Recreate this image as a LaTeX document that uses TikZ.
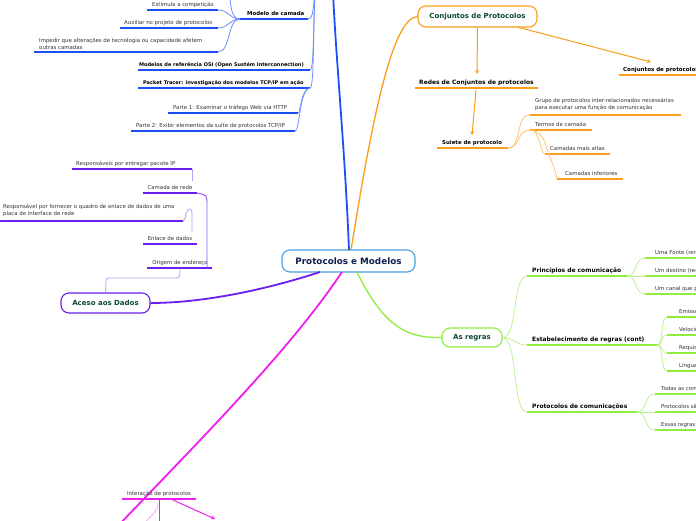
\documentclass[tikz,border=0pt]{standalone}
\usepackage{fontspec}
\setmainfont{DejaVu Sans}
\usetikzlibrary{arrows.meta}
\definecolor{cblue}{HTML}{1E4FF5}
\definecolor{cbluel}{HTML}{6F8FFF}
\definecolor{ccenter}{HTML}{4A9EDC}
\definecolor{navy}{HTML}{0F1F4F}
\definecolor{dgreen}{HTML}{0B4A2E}
\definecolor{corange}{HTML}{FB9E1A}
\definecolor{corangel}{HTML}{FCC56E}
\definecolor{cgreen}{HTML}{8EEE3A}
\definecolor{cgreenl}{HTML}{BDF290}
\definecolor{cpurple}{HTML}{6A1EF0}
\definecolor{cpurplel}{HTML}{B89CF6}
\definecolor{cmag}{HTML}{EE1EEE}
\definecolor{cmagl}{HTML}{F6A6F6}
\definecolor{txt}{HTML}{333333}
\tikzset{
  lbl/.style={anchor=base west, inner sep=0pt, font=\fontsize{5.4}{7}\selectfont, text=txt},
  blbl/.style={anchor=base west, inner sep=0pt, font=\fontsize{5}{6.5}\selectfont\bfseries, text=black},
  mlbl/.style={anchor=base west, inner sep=0pt, font=\fontsize{5.4}{7}\selectfont\bfseries, text=black},
  hlbl/.style={anchor=base west, inner sep=0pt, font=\fontsize{5.95}{7}\selectfont\bfseries, text=black},
  topic/.style={rounded corners=8pt, line width=1.1pt, inner sep=0pt, font=\fontsize{7}{8}\selectfont\bfseries, text=dgreen, fill=white},
  ublue/.style={draw=cblue, line width=1.5pt},
  cblue/.style={draw=cbluel, line width=0.8pt},
  upur/.style={draw=cpurple, line width=1.5pt},
  cpur/.style={draw=cpurplel, line width=0.8pt},
  uora/.style={draw=corange, line width=1.5pt},
  cora/.style={draw=corangel, line width=0.8pt},
  aora/.style={draw=corange, line width=1pt, -{Stealth[length=4pt,width=4pt]}},
  ugrn/.style={draw=cgreen, line width=1.5pt},
  cgrn/.style={draw=cgreenl, line width=0.8pt},
  umag/.style={draw=cmag, line width=1.5pt},
}
\begin{document}
\begin{tikzpicture}[x=1pt,y=-1pt]
\useasboundingbox (0,0) rectangle (696,520);
\clip (0,0) rectangle (696,520);
\fill[white] (0,0) rectangle (696,520);

% ---------- main topics ----------
\node[topic, draw=ccenter, minimum width=133pt, minimum height=22pt, text=navy, font=\fontsize{8.8}{10}\selectfont\bfseries] (center) at (348.5,261) {Protocolos e Modelos};
\node[topic, draw=corange, minimum width=119pt, minimum height=21pt] (conj) at (477.5,16.5) {Conjuntos de Protocolos};
\node[topic, draw=cpurple, minimum width=89pt, minimum height=20pt] (aceso) at (105.5,303) {Aceso aos Dados};
\node[topic, draw=cgreen, minimum width=60pt, minimum height=19pt] (regras) at (472,337.5) {As regras};
\coordinate (bluetop) at (333,-8);
\coordinate (magend) at (116,528);

% main connectors
\draw[draw=cblue, line width=1.8pt] (349,250) .. controls (345,150) and (336,60) .. (bluetop);
\draw[draw=corange, line width=1.3pt] (351,250) .. controls (372,120) and (392,18) .. (conj.west);
\draw[draw=cpurple, line width=1.8pt] (320,272) .. controls (262,291) and (200,303) .. (aceso.east);
\draw[draw=cmag, line width=1.8pt] (342,272) .. controls (290,350) and (200,440) .. (magend);
\draw[draw=cgreen, line width=1.3pt] (357,272) .. controls (385,330) and (410,338) .. (regras.west);

% ---------- blue subtree ----------
\coordinate (spinetop) at (315,-8);
\draw[ublue] (240,19) coordinate (mcL) -- (308,19) coordinate (mcR);
\node[mlbl] (mc) at (247,15.5) {Modelo de camada};
\draw[ublue] (147,10) coordinate (esL) -- (218,10) coordinate (esR);
\node[lbl] (es) at (152,6.5) {Estimula a competição};
\draw[ublue] (120,28) coordinate (auL) -- (218,28) coordinate (auR);
\node[lbl] (au) at (124,24.5) {Auxiliar no projeto de protocolos};
\draw[ublue] (34,52) coordinate (imL) -- (218,52) coordinate (imR);
\node[lbl, anchor=north west, align=left] (im) at (39,38) {Impedir que alterações de tecnologia ou capacidade afetem\\outras camadas};
\draw[ublue] (138,70) coordinate (osL) -- (310,70) coordinate (osR);
\node[blbl] (os) at (139,66.5) {Modelos de referência OSI (Open Sustém Interconnection)};
\draw[ublue] (138,88) coordinate (ptL) -- (310,88) coordinate (ptR);
\node[blbl] (pt) at (143,84.5) {Packet Tracer: investigação dos modelos TCP/IP em ação};
\draw[ublue] (168,113) coordinate (p1L) -- (298,113) coordinate (p1R);
\node[lbl] (p1) at (173,109.5) {Parte 1: Examinar o tráfego Web via HTTP};
\draw[ublue] (131,131) coordinate (p2L) -- (295,131) coordinate (p2R);
\node[lbl] (p2) at (136,127.5) {Parte 2: Exibir elementos da suíte de protocolos TCP/IP};

\draw[cblue] (spinetop) .. controls (313,5) and (314,19) .. (mcR);
\draw[cblue] (spinetop) .. controls (313,30) and (314,70) .. (osR);
\draw[cblue] (spinetop) .. controls (313,40) and (314,88) .. (ptR);
\draw[cblue] (ptR) .. controls (300,90) and (301,113) .. (p1R);
\draw[cblue] (ptR) .. controls (299,90) and (300,131) .. (p2R);
\coordinate (mcup) at (229,-8);
\draw[cblue] (mcL) .. controls (230,19) and (231,2) .. (mcup);
\draw[cblue] (mcL) .. controls (229,19) and (229,10) .. (esR);
\draw[cblue] (mcL) .. controls (229,19) and (229,28) .. (auR);
\draw[cblue] (mcL) .. controls (227,19) and (231,52) .. (imR);

% ---------- purple subtree ----------
\draw[upur] (147,268) coordinate (orL) -- (212,268) coordinate (orR);
\node[lbl, anchor=base] (or) at (180,264.5) {Origem de endereço};
\coordinate (orM) at (180,268);
\draw[upur] (143,193) coordinate (crL) -- (197,193) coordinate (crR);
\node[lbl, anchor=base] (cr) at (170,189.5) {Camada de rede};
\draw[upur] (72,169) coordinate (rpL) -- (192,169) coordinate (rpR);
\node[lbl] (rp) at (76,165.5) {Responsáveis por entregar pacote IP};
\draw[upur] (143,244) coordinate (edL) -- (197,244) coordinate (edR);
\node[lbl, anchor=base] (ed) at (170,240.5) {Enlace de dados};
\draw[upur] (-2,221) coordinate (rfL) -- (183,221) coordinate (rfR);
\node[lbl, anchor=north west, align=left] (rf) at (3,204) {Responsável por fornecer o quadro de enlace de dados de uma\\placa de interface de rede};
\coordinate (crT) at (192,181);
\coordinate (edT) at (192,232);

\draw[cpur] (aceso.north) -- (106,283) .. controls (106,278) .. (112,278) -- (174,278) .. controls (180,278) .. (orM);
\draw[draw=cpurple!75, line width=0.9pt] (207,268) -- (207,205) .. controls (207,195) .. (crR);
\draw[cpur] (crT) -- (rpR);
\draw[cpur] (edT) -- (192,214) .. controls (192,207) and (187,208) .. (186,214) .. controls (185,219) .. (rfR);

% ---------- magenta subtree ----------
\draw[umag] (122,499) coordinate (ipL) -- (196,499) coordinate (ipR);
\node[lbl, anchor=base] (ip) at (159,495.5) {Interação de protocolos};
\coordinate (ipM) at (159,499);
\coordinate (ipD) at (159,528);
\coordinate (ipC) at (140,528);
\coordinate (ipA) at (173,500);
\coordinate (ipE) at (215,519);
\draw[draw=cmag, line width=1pt] (ipM) -- (ipD);
\draw[draw=cmagl, line width=0.8pt] (ipC) .. controls (150,516) and (158,512) .. (158,503);
\draw[draw=cmag, line width=1pt, -{Stealth[length=4pt,width=4pt]}] (ipA) -- (ipE);

% ---------- orange subtree ----------
\draw[uora] (415,88) coordinate (rcL) -- (538,88) coordinate (rcR);
\node[hlbl] (rc) at (419,84.5) {Redes de Conjuntos de protocolos};
\draw[uora] (619,75) coordinate (cpL) -- (700,75) coordinate (cpR);
\node[mlbl, font=\fontsize{5.5}{7}\selectfont\bfseries] (cp) at (623,71.5) {Conjuntos de protocolos};
\draw[uora] (437,148) coordinate (spL) -- (508,148) coordinate (spR);
\node[mlbl] (sp) at (442,144.5) {Suiete de protocolo};
\draw[uora] (530,115) coordinate (grL) -- (681,115) coordinate (grR);
\node[lbl, anchor=north west, align=left] (gr) at (535,98) {Grupo de protocolos inter-relacionados necessárias\\para executar uma função de comunicação};
\draw[uora] (530,130) coordinate (tcL) -- (592,130) coordinate (tcR);
\node[lbl] (tc) at (535,126.5) {Termos de camada};
\draw[uora] (545,154) coordinate (caL) -- (610,154) coordinate (caR);
\node[lbl] (ca) at (550,150.5) {Camadas mais altas};
\draw[uora] (557,179) coordinate (ciL) -- (623,179) coordinate (ciR);
\node[lbl] (ci) at (565,175.5) {Camadas inferiores};

\draw[aora] (conj.south) -- (477,74);
\draw[aora] (517,27) -- (651,62);
\draw[aora] (476,90) -- (472,135);
\draw[cora] (spR) .. controls (522,148) and (515,115) .. (grL);
\draw[cora] (spR) .. controls (520,148) and (517,130) .. (tcL);
\draw[cora] (531,130) .. controls (540,131) and (539,150) .. (caL);
\draw[cora] (531,130) .. controls (546,132) and (546,150) .. (551,160) .. controls (555,170) .. (ciL);

% ---------- green subtree ----------
\draw[ugrn] (527,276) coordinate (prL) -- (627,276) coordinate (prR);
\node[hlbl] (pr) at (532,272.5) {Princípios de comunicação};
\draw[ugrn] (527,345) coordinate (erL) -- (657,345) coordinate (erR);
\node[hlbl] (er) at (532,341.5) {Estabelecimento de regras (cont)};
\draw[ugrn] (527,412) coordinate (pcL) -- (637,412) coordinate (pcR);
\node[hlbl] (pc) at (532,408.5) {Protocolos de comunicações};

\draw[cgrn] (regras.east) .. controls (518,338) and (512,276) .. (prL);
\draw[cgrn] (regras.east) .. controls (515,338) and (515,345) .. (erL);
\draw[cgrn] (regras.east) .. controls (518,338) and (512,412) .. (pcL);

% Principios children
\draw[ugrn] (645,258) coordinate (a1L) -- (700,258);
\node[lbl] (a1) at (655,254.5) {Uma Fonte (remetente)};
\draw[ugrn] (645,276) coordinate (a2L) -- (700,276);
\node[lbl] (a2) at (655,272.5) {Um destino (receptor)};
\draw[ugrn] (645,294) coordinate (a3L) -- (700,294);
\node[lbl] (a3) at (655,290.5) {Um canal que permite a comunicação};
\draw[cgrn] (prR) .. controls (638,276) and (634,258) .. (a1L);
\draw[cgrn] (prR) -- (a2L);
\draw[cgrn] (prR) .. controls (638,276) and (634,294) .. (a3L);

% Estabelecimento children
\draw[ugrn] (667,317) coordinate (b1L) -- (700,317);
\node[lbl] (b1) at (679,313.5) {Emissor e receptor identificados};
\draw[ugrn] (667,335) coordinate (b2L) -- (700,335);
\node[lbl] (b2) at (679,331.5) {Velocidade e tempo de entrega};
\draw[ugrn] (667,353) coordinate (b3L) -- (700,353);
\node[lbl] (b3) at (679,349.5) {Requisitos de confirmação};
\draw[ugrn] (667,371) coordinate (b4L) -- (700,371);
\node[lbl] (b4) at (679,367.5) {Língua e gramática comuns};
\draw[cgrn] (erR) .. controls (664,345) and (660,317) .. (b1L);
\draw[cgrn] (erR) .. controls (664,345) and (660,335) .. (b2L);
\draw[cgrn] (erR) .. controls (664,345) and (660,353) .. (b3L);
\draw[cgrn] (erR) .. controls (664,345) and (660,371) .. (b4L);

% Protocolos children
\draw[ugrn] (655,394) coordinate (c1L) -- (700,394);
\node[lbl] (c1) at (661,390.5) {Todas as comunicações são regidas por protocolos};
\draw[ugrn] (655,412) coordinate (c2L) -- (700,412);
\node[lbl] (c2) at (661,408.5) {Protocolos são as regras que as comunicações seguirão};
\draw[ugrn] (655,430) coordinate (c3L) -- (700,430);
\node[lbl] (c3) at (661,426.5) {Essas regras variam de acordo com o protocolo};
\draw[cgrn] (pcR) .. controls (647,412) and (644,394) .. (c1L);
\draw[cgrn] (pcR) -- (c2L);
\draw[cgrn] (pcR) .. controls (647,412) and (644,430) .. (c3L);
\end{tikzpicture}
\end{document}
